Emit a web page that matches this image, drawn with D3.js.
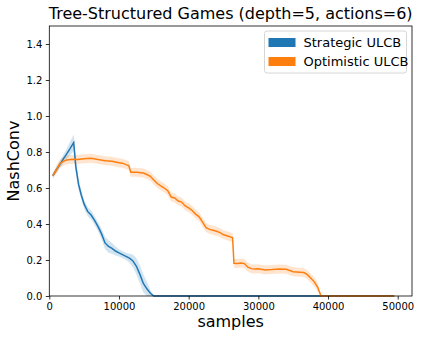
<!DOCTYPE html>
<html><head><meta charset="utf-8">
<script src="https://cdn.jsdelivr.net/npm/d3@7"></script>
<style>body{margin:0;background:#fff}svg{display:block}text{font-family:"DejaVu Sans",sans-serif}</style>
</head><body>
<svg id="c" width="423" height="339"></svg>
<script>
const title = "Tree-Structured Games (depth=5, actions=6)";
const seriesNames = ["Strategic ULCB", "Optimistic ULCB"];
const colors = ["#1f77b4", "#ff7f0e"];
const xTicks = [0, 10000, 20000, 30000, 40000, 50000];
const yTicks = [0.0, 0.2, 0.4, 0.6, 0.8, 1.0, 1.2, 1.4];

const strategicX = [500,1000,1500,2000,2500,3000,3500,3800,4200,4600,5000,5500,6000,6500,7000,7500,8000,8500,9000,9500,10000,10500,11000,11500,12000,12500,13000,13500,14000,14500,15000,49500];
const strategicY = [0.668,0.70,0.73,0.76,0.79,0.82,0.852,0.72,0.62,0.56,0.51,0.47,0.45,0.42,0.385,0.345,0.295,0.275,0.265,0.25,0.24,0.23,0.22,0.21,0.195,0.165,0.12,0.07,0.04,0.015,0.0,0.0];
const strategicErr = [0.012,0.015,0.02,0.025,0.03,0.038,0.045,0.04,0.03,0.025,0.025,0.025,0.025,0.025,0.025,0.03,0.035,0.035,0.03,0.025,0.02,0.02,0.02,0.025,0.035,0.045,0.05,0.05,0.04,0.02,0.004,0.004];

const optimisticX = [500,1000,1500,2000,2500,3000,3500,4000,5000,6000,7000,8000,9000,9500,10000,10500,11000,11400,11700,12500,13500,14000,14500,15000,15500,16000,16500,17000,17500,18000,18500,19000,19500,20000,20500,21000,21500,22000,22500,23000,23500,24000,24500,25000,25500,26000,26300,26500,27000,27500,28000,28500,29000,29500,30000,31000,32000,33000,34000,35000,36000,36500,37000,37500,38000,38500,39000,49500];
const optimisticY = [0.668,0.70,0.735,0.748,0.755,0.758,0.76,0.758,0.762,0.765,0.758,0.752,0.748,0.745,0.74,0.738,0.73,0.725,0.688,0.688,0.683,0.675,0.665,0.645,0.625,0.612,0.60,0.585,0.55,0.545,0.528,0.522,0.50,0.49,0.475,0.455,0.44,0.41,0.38,0.37,0.365,0.36,0.352,0.34,0.335,0.328,0.325,0.182,0.18,0.183,0.18,0.16,0.152,0.15,0.152,0.145,0.147,0.15,0.148,0.135,0.132,0.13,0.12,0.10,0.08,0.05,0.0,0.0];
const optimisticErr = optimisticX.map((x,i)=> x>=39000 ? 0.004 : (x<1000 ? 0.012 : 0.025));

const svg = d3.select("#c");
const L = 49.3, R = 412, T = 26, B = 296;
const x = d3.scaleLinear().domain([0, 52050]).range([L, R]);
const y = d3.scaleLinear().domain([0, 1.5]).range([B, T]);

const series = [
  {name: seriesNames[0], xs: strategicX, ys: strategicY, es: strategicErr, color: colors[0]},
  {name: seriesNames[1], xs: optimisticX, ys: optimisticY, es: optimisticErr, color: colors[1]}
];

const g = svg.append("g");
const clipId = "clip";
svg.append("clipPath").attr("id", clipId).append("rect").attr("x", L).attr("y", T).attr("width", R-L).attr("height", B-T);

series.forEach(s => {
  const pts = s.xs.map((xv,i)=>({x:xv, y:s.ys[i], e:s.es[i]}));
  const area = d3.area().x(d=>x(d.x)).y0(d=>y(Math.max(d.y-d.e, -0.01))).y1(d=>y(d.y+d.e));
  g.append("path").datum(pts).attr("d", area).attr("fill", s.color).attr("fill-opacity", 0.2).attr("clip-path", `url(#${clipId})`);
});
series.forEach(s => {
  const pts = s.xs.map((xv,i)=>({x:xv, y:s.ys[i]}));
  const line = d3.line().x(d=>x(d.x)).y(d=>y(d.y));
  g.append("path").datum(pts).attr("d", line).attr("fill", "none").attr("stroke", s.color).attr("stroke-width", 1.5);
});

// axes
const xAxis = d3.axisBottom(x).tickValues(xTicks).tickFormat(d3.format("d")).tickSize(3.5).tickPadding(3.5);
const yAxis = d3.axisLeft(y).tickValues(yTicks).tickFormat(d3.format(".1f")).tickSize(3.5).tickPadding(3.5);
const xa = svg.append("g").attr("transform", `translate(0,${B})`).call(xAxis);
const ya = svg.append("g").attr("transform", `translate(${L},0)`).call(yAxis);
[xa, ya].forEach(a => {
  a.select(".domain").remove();
  a.selectAll(".tick line").attr("stroke", "#000").attr("stroke-width", 0.8);
  a.selectAll(".tick text").attr("font-size", 10).attr("fill", "#000").attr("font-family", "DejaVu Sans");
});
svg.append("rect").attr("x", L).attr("y", T).attr("width", R-L).attr("height", B-T)
  .attr("fill", "none").attr("stroke", "#000").attr("stroke-width", 0.8);

svg.append("text").attr("x", (L+R)/2).attr("y", 18.7).attr("text-anchor", "middle").attr("font-size", 16).text(title);
svg.append("text").attr("x", (L+R)/2).attr("y", 327).attr("text-anchor", "middle").attr("font-size", 16).text("samples");
svg.append("text").attr("transform", `translate(19,${(T+B)/2}) rotate(-90)`).attr("text-anchor", "middle").attr("font-size", 16).text("NashConv");

// legend
const lg = svg.append("g");
lg.append("rect").attr("x", 264.5).attr("y", 31).attr("width", 142).attr("height", 42).attr("rx", 2.5)
  .attr("fill", "#fff").attr("fill-opacity", 0.8).attr("stroke", "#ccc").attr("stroke-width", 0.8);
series.forEach((s,i) => {
  const cy = 42.5 + i*19;
  lg.append("rect").attr("x", 268.5).attr("y", cy-4.5).attr("width", 27).attr("height", 9).attr("fill", s.color);
  lg.append("text").attr("x", 303.5).attr("y", cy+4.5).attr("font-size", 13).text(s.name);
});
</script>
</body></html>
